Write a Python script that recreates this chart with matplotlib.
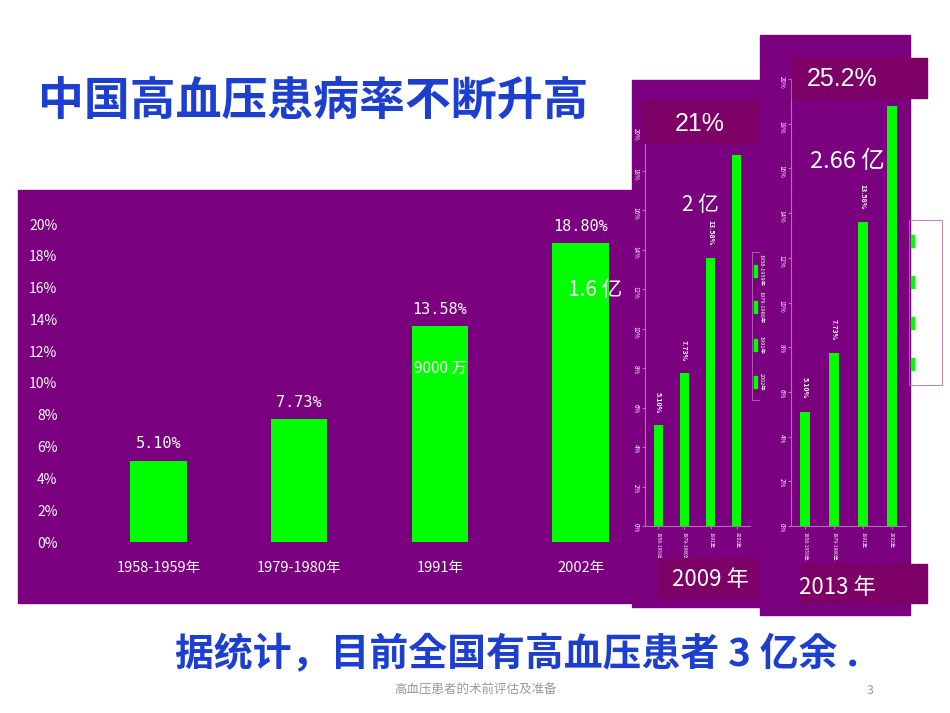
import matplotlib.pyplot as plt
from matplotlib.patches import Rectangle

CJK = 'Noto Sans CJK JP'
plt.rcParams['font.family'] = [CJK, 'DejaVu Sans']

years = ['1958-1959年', '1979-1980年', '1991年', '2002年']
rates = [5.10, 7.73, 13.58, 18.80]
rate_labels = ['5.10%', '7.73%', '13.58%', '18.80%']
ytick_vals = [0, 2, 4, 6, 8, 10, 12, 14, 16, 18, 20]
small_ticks = [0, 2, 4, 6, 8, 10, 12, 14, 16, 18, 20]

W, H = 950, 713
PURPLE = '#7b0080'
BOXC = '#7d0067'
GREEN = '#00ff00'
BLUE = '#1d3fd0'

fig = plt.figure(figsize=(W / 100, H / 100), dpi=100)


def box(x0, y0, x1, y1):
    # pixel box (top-left origin) -> figure fraction
    return [x0 / W, 1 - y1 / H, (x1 - x0) / W, (y1 - y0) / H]


def rect(x0, y0, x1, y1, color, z=0):
    fig.patches.append(Rectangle((x0 / W, 1 - y1 / H), (x1 - x0) / W, (y1 - y0) / H,
                                 transform=fig.transFigure, color=color, zorder=z))


def txt(x, y, s, **kw):
    fig.text(x / W, 1 - y / H, s, **kw)


# main panel
rect(18, 190, 632, 603, PURPLE, -1)
ax = fig.add_axes(box(88, 224, 651, 542))
ax.set_zorder(1)
ax.patch.set_alpha(0)
ax.bar(range(4), rates, width=0.4, color=GREEN)
for i, r in enumerate(rates):
    ax.text(i, r + 0.6, rate_labels[i], ha='center', va='bottom',
            color='white', fontsize=11, family='DejaVu Sans Mono')
ax.set_ylim(0, 20)
ax.set_xlim(-0.5, 3.5)
ax.set_yticks(ytick_vals)
ax.set_yticklabels([f'{v}%' for v in ytick_vals], fontsize=10, color='white')
ax.set_xticks(range(4))
ax.set_xticklabels(years, fontsize=10.5, color='white')
ax.tick_params(length=0, pad=14)
ax.tick_params(axis='y', pad=22)
for s in ax.spines.values():
    s.set_visible(False)
txt(595, 290, '1.6 亿', color='white', fontsize=15, ha='center', va='center', zorder=2)
txt(440, 368, '9000 万', color='white', fontsize=11, ha='center', va='center', zorder=2)


def small_chart(panel, axbox, legbox, z):
    rect(*panel, PURPLE, z)
    a = fig.add_axes(box(*axbox))
    a.set_zorder(z + 1)
    a.patch.set_alpha(0)
    a.bar(range(4), rates, width=0.35, color=GREEN)
    for i, r in enumerate(rates):
        a.text(i, r + 0.6, rate_labels[i], ha='center', va='bottom', color='white',
               fontsize=5, rotation=-90, fontweight='bold')
    a.set_ylim(0, 20)
    a.set_xlim(-0.5, 3.5)
    a.set_yticks(small_ticks)
    a.set_yticklabels([f'{v}%' for v in small_ticks], fontsize=4.5, color='white', rotation=-90)
    a.set_xticks(range(4))
    a.set_xticklabels(years, fontsize=3.5, color='white', rotation=-90)
    a.tick_params(length=2, colors='#b070b0', labelcolor='white', pad=2)
    for k in ('top', 'right'):
        a.spines[k].set_visible(False)
    for k in ('left', 'bottom'):
        a.spines[k].set_color('#b070b0')
    lx0, ly0, lx1, ly1 = legbox
    fig.patches.append(Rectangle((lx0 / W, 1 - ly1 / H), (lx1 - lx0) / W, (ly1 - ly0) / H,
                                 transform=fig.transFigure, fill=False, ec='#b070b0', lw=0.6, zorder=z + 2))
    step = (ly1 - ly0) / 4
    for i, y in enumerate(years):
        yy = ly0 + step * (i + 0.5)
        rect(lx0 + 2, yy - 6, lx0 + 5, yy + 6, GREEN, z + 2)
        txt(lx0 + 7, yy, y, color='white', fontsize=4, rotation=-90, va='center', zorder=z + 3)


small_chart((632, 80, 762, 607), (645, 131, 750, 526), (752, 252, 776, 400), 2)
small_chart((760, 35, 910, 615), (791, 79, 906, 526), (909, 220, 942, 385), 5)

rect(641, 101, 767, 143, BOXC, 4)
txt(700, 124, '21%', color='white', fontsize=18, ha='center', va='center', zorder=4,
    family='Liberation Sans')
txt(700, 205, '2 亿', color='white', fontsize=15, ha='center', va='center', zorder=4)
rect(658, 558, 775, 598, BOXC, 4)
txt(710, 580, '2009 年', color='white', fontsize=16, ha='center', va='center', zorder=4)

rect(792, 58, 927, 98, BOXC, 7)
txt(842, 79, '25.2%', color='white', fontsize=18, ha='center', va='center', zorder=8,
    family='Liberation Sans')
txt(847, 162, '2.66 亿', color='white', fontsize=17, ha='center', va='center', zorder=8)
rect(801, 564, 927, 603, BOXC, 7)
txt(837, 587, '2013 年', color='white', fontsize=16, ha='center', va='center', zorder=8)

txt(38, 102, '中国高血压患病率不断升高', color=BLUE, fontsize=33, fontweight='bold',
    va='center')
txt(175, 655, '据统计，目前全国有高血压患者 3 亿余 .', color=BLUE, fontsize=28,
    fontweight='bold', va='center')
txt(475, 690, '高血压患者的术前评估及准备', color='#999999', fontsize=9, ha='center',
    va='center')
txt(870, 690, '3', color='#999999', fontsize=9, ha='center', va='center')

fig.savefig('out.png', dpi=100)
